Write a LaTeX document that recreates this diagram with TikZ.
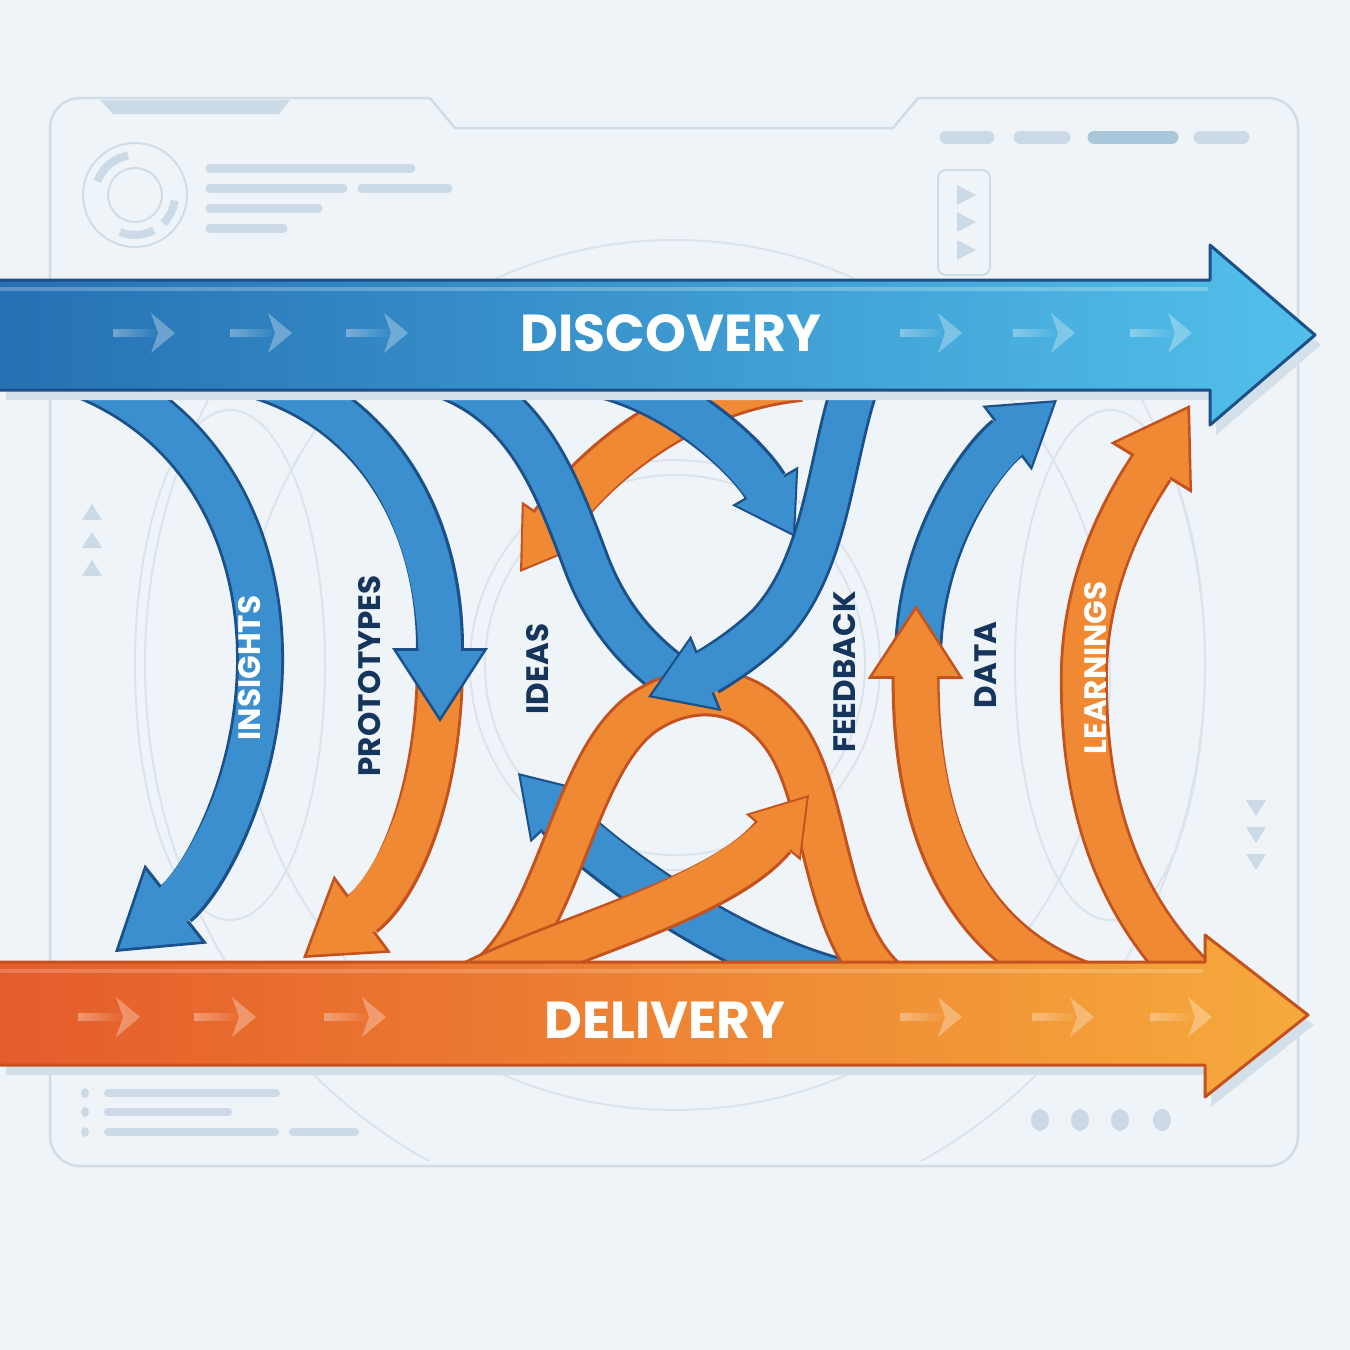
\documentclass[tikz,border=0pt]{standalone}
\usepackage{fontspec}
\setmainfont{Poppins}
\usetikzlibrary{arrows.meta,fadings}
\definecolor{paper}{RGB}{239,244,248}
\definecolor{frameline}{RGB}{208,220,230}
\definecolor{ghost}{RGB}{203,218,230}
\definecolor{ghostdark}{RGB}{168,199,219}
\definecolor{ringgray}{RGB}{219,228,236}
\definecolor{shadowgray}{RGB}{211,223,233}
\definecolor{discdark}{RGB}{38,112,180}
\definecolor{disclight}{RGB}{82,192,234}
\definecolor{discedge}{RGB}{27,80,136}
\definecolor{loopblue}{RGB}{60,143,206}
\definecolor{delidark}{RGB}{229,92,43}
\definecolor{delilight}{RGB}{246,170,60}
\definecolor{deliedge}{RGB}{196,82,31}
\definecolor{looporange}{RGB}{240,137,52}
\definecolor{navy}{RGB}{21,53,93}
\newcommand\flowarrow[4][1]{%
  \draw[flow line,#3,-{Triangle[width=96pt,length=74pt,line width=0pt,scale=#1]}] #4;
  \draw[flow fill,#2,shorten >=#1*5pt,-{Triangle[width=86pt,length=66pt,line width=0pt,scale=#1]}] #4;
  \draw[flow fill,#2,shorten >=#1*52pt] #4;
}
\newcommand\flowband[3]{%
  \draw[flow line,#2] #3;
  \draw[flow fill,#1] #3;
}
\begin{document}
\begin{tikzpicture}[x=1pt, y=1pt,
  flow line/.style={line width=48pt},
  flow fill/.style={line width=42pt},
  ghost bar/.style={line width=9pt, line cap=round, color=ghost},
  ring/.style={line width=2pt, color=ringgray},
  band edge/.style={line width=3pt, line join=round},
  band text/.style={font=\bfseries\fontsize{52}{52}\selectfont, text=white},
  loop text/.style={font=\bfseries\fontsize{31}{31}\selectfont, rotate=90, inner sep=0pt}]
\useasboundingbox (0,0) rectangle (1350,-1350);
\fill[paper] (0,0) rectangle (1350,-1350);

\draw[frameline, line width=2.5pt] (80,-98) -- (430,-98) -- (455,-128) -- (893,-128) -- (918,-98) -- (1268,-98) arc[start angle=90, end angle=0, radius=30pt] -- (1298,-1136) arc[start angle=0, end angle=-90, radius=30pt] -- (80,-1166) arc[start angle=270, end angle=180, radius=30pt] -- (50,-128) arc[start angle=180, end angle=90, radius=30pt] -- cycle;
\fill[ghost] (100,-100) -- (290,-100) -- (279,-114) -- (113,-114) -- cycle;
\draw[frameline, line width=2pt] (135,-195) circle[radius=52pt];
\draw[frameline, line width=2pt] (135,-195) circle[radius=27pt];
\draw[ghost, line width=8pt] (135,-195) ++(100:40pt) arc[start angle=100, end angle=160, radius=40pt];
\draw[ghost, line width=8pt] (135,-195) ++(-8:40pt) arc[start angle=-8, end angle=-45, radius=40pt];
\draw[ghost, line width=8pt] (135,-195) ++(-62:40pt) arc[start angle=-62, end angle=-112, radius=40pt];
\draw[ghost bar] (210,-168) -- (411,-168);
\draw[ghost bar] (210,-188) -- (343,-188);
\draw[ghost bar] (362,-188) -- (448,-188);
\draw[ghost bar] (210,-208) -- (318,-208);
\draw[ghost bar] (210,-228) -- (283,-228);
\draw[ghost bar, line width=13pt] (946,-137) -- (988,-137);
\draw[ghost bar, line width=13pt] (1020,-137) -- (1064,-137);
\draw[ghost bar, line width=13pt, color=ghostdark] (1094,-137) -- (1172,-137);
\draw[ghost bar, line width=13pt] (1200,-137) -- (1243,-137);
\draw[frameline, line width=2pt, rounded corners=8pt] (938,-170) rectangle (990,-275);
\foreach \y in {195,222,250} {
  \fill[ghost] (957,-\y+10) -- (976,-\y) -- (957,-\y-10) -- cycle;
}
\foreach \y in {512,540,568} {
  \fill[ghost] (82,-\y-8) -- (92,-\y+8) -- (102,-\y-8) -- cycle;
}
\foreach \y in {808,835,862} {
  \fill[ghost] (1246,-\y+8) -- (1266,-\y+8) -- (1256,-\y-8) -- cycle;
}
\foreach \y in {1093,1112,1132} {
  \fill[ghost] (85,-\y) ellipse[x radius=4pt, y radius=5pt];
}
\draw[ghost bar, line width=8pt] (108,-1093) -- (276,-1093);
\draw[ghost bar, line width=8pt] (108,-1112) -- (228,-1112);
\draw[ghost bar, line width=8pt] (108,-1132) -- (275,-1132);
\draw[ghost bar, line width=8pt] (293,-1132) -- (355,-1132);
\foreach \x in {1040,1080,1120,1162} {
  \fill[ghost] (\x,-1120) ellipse[x radius=9pt, y radius=11pt];
}

\draw[ring] (675,-675) circle[radius=435pt];
\begin{scope}
  \clip (0,-392) rectangle (1350,-1160);
  \draw[ring] (675,-665) ellipse[x radius=530pt, y radius=560pt];
\end{scope}
\draw[ring] (675,-665) circle[radius=205pt];
\draw[ring] (675,-665) circle[radius=190pt];
\draw[ring] (230,-665) ellipse[x radius=95pt, y radius=255pt];
\draw[ring] (1110,-665) ellipse[x radius=95pt, y radius=255pt];

\flowarrow[0.8]{looporange}{deliedge}{(800,-378) .. controls (680,-390) and (590,-470) .. (520,-572)}
\flowarrow[0.8]{loopblue}{discedge}{(880,-990) .. controls (740,-970) and (593,-853) .. (518,-773)}
\flowarrow[1.05]{loopblue}{discedge}{(75,-372) .. controls (205,-420) and (262,-540) .. (260,-665) .. controls (258,-790) and (200,-885) .. (115,-952)}
\flowarrow{looporange}{deliedge}{(440,-660) .. controls (440,-800) and (395,-890) .. (303,-958)}
\flowarrow{loopblue}{discedge}{(245,-372) .. controls (375,-405) and (440,-520) .. (440,-722)}
\flowband{loopblue}{discedge}{(435,-372) .. controls (525,-400) and (555,-480) .. (585,-560) .. controls (605,-615) and (640,-660) .. (700,-695)}
\flowband{looporange}{deliedge}{(480,-985) .. controls (560,-930) and (570,-770) .. (640,-715) .. controls (680,-685) and (740,-680) .. (780,-730) .. controls (830,-790) and (820,-930) .. (890,-985)}
\flowarrow[0.75]{looporange}{deliedge}{(470,-985) .. controls (570,-935) and (720,-900) .. (809,-795)}
\flowarrow[0.85]{loopblue}{discedge}{(860,-372) .. controls (830,-450) and (830,-560) .. (770,-625) .. controls (740,-655) and (702,-675) .. (648,-697)}
\flowarrow[0.8]{loopblue}{discedge}{(590,-372) .. controls (680,-390) and (750,-460) .. (795,-537)}
\flowarrow[0.85]{loopblue}{discedge}{(918,-660) .. controls (918,-540) and (985,-455) .. (1057,-400)}
\flowarrow{looporange}{deliedge}{(1100,-990) .. controls (960,-950) and (915,-820) .. (916,-605)}
\flowarrow{looporange}{deliedge}{(1200,-985) .. controls (1110,-900) and (1082,-790) .. (1084,-670) .. controls (1086,-560) and (1145,-478) .. (1190,-405)}

\node (insights) [loop text, text=white] at (250,-668) {INSIGHTS};
\node (prototypes) [loop text, text=navy] at (370,-676) {PROTOTYPES};
\node (ideas) [loop text, text=navy] at (538,-669) {IDEAS};
\node (feedback) [loop text, text=navy] at (845,-672) {FEEDBACK};
\node (data) [loop text, text=navy] at (986,-665) {DATA};
\node (learnings) [loop text, text=white] at (1096,-668) {LEARNINGS};

\fill[shadowgray, xshift=6pt, yshift=-10pt] (0,-280) -- (1210,-280) -- (1210,-245) -- (1315,-335) -- (1210,-425) -- (1210,-390) -- (0,-390) -- cycle;
\shade[left color=discdark, right color=disclight] (0,-280) -- (1210,-280) -- (1210,-245) -- (1315,-335) -- (1210,-425) -- (1210,-390) -- (0,-390) -- cycle;
\draw[band edge, discedge] (0,-280) -- (1210,-280) -- (1210,-245) -- (1315,-335) -- (1210,-425) -- (1210,-390) -- (0,-390);
\draw[white, opacity=.25, line width=4pt] (0,-289) -- (1208,-289);
\foreach \x in {175,292,408,962,1075,1192} {
  \fill[white, path fading=east, fill opacity=.35] (\x-62,-329) rectangle (\x-16,-337);
  \fill[white, fill opacity=.3] (\x-24,-313) -- (\x,-333) -- (\x-24,-353) -- (\x-17,-333) -- cycle;
}
\node (discovery) [band text] at (671,-333) {DISCOVERY};

\fill[shadowgray, xshift=6pt, yshift=-10pt] (0,-962) -- (1205,-962) -- (1205,-935) -- (1308,-1015) -- (1205,-1097) -- (1205,-1065) -- (0,-1065) -- cycle;
\shade[left color=delidark, right color=delilight] (0,-962) -- (1205,-962) -- (1205,-935) -- (1308,-1015) -- (1205,-1097) -- (1205,-1065) -- (0,-1065) -- cycle;
\draw[band edge, deliedge] (0,-962) -- (1205,-962) -- (1205,-935) -- (1308,-1015) -- (1205,-1097) -- (1205,-1065) -- (0,-1065);
\draw[white, opacity=.2, line width=4pt] (0,-971) -- (1203,-971);
\foreach \x in {140,256,386,962,1094,1212} {
  \fill[white, path fading=east, fill opacity=.35] (\x-62,-1013) rectangle (\x-16,-1021);
  \fill[white, fill opacity=.3] (\x-24,-997) -- (\x,-1017) -- (\x-24,-1037) -- (\x-17,-1017) -- cycle;
}
\node (delivery) [band text] at (665,-1020) {DELIVERY};
\end{tikzpicture}
\end{document}
